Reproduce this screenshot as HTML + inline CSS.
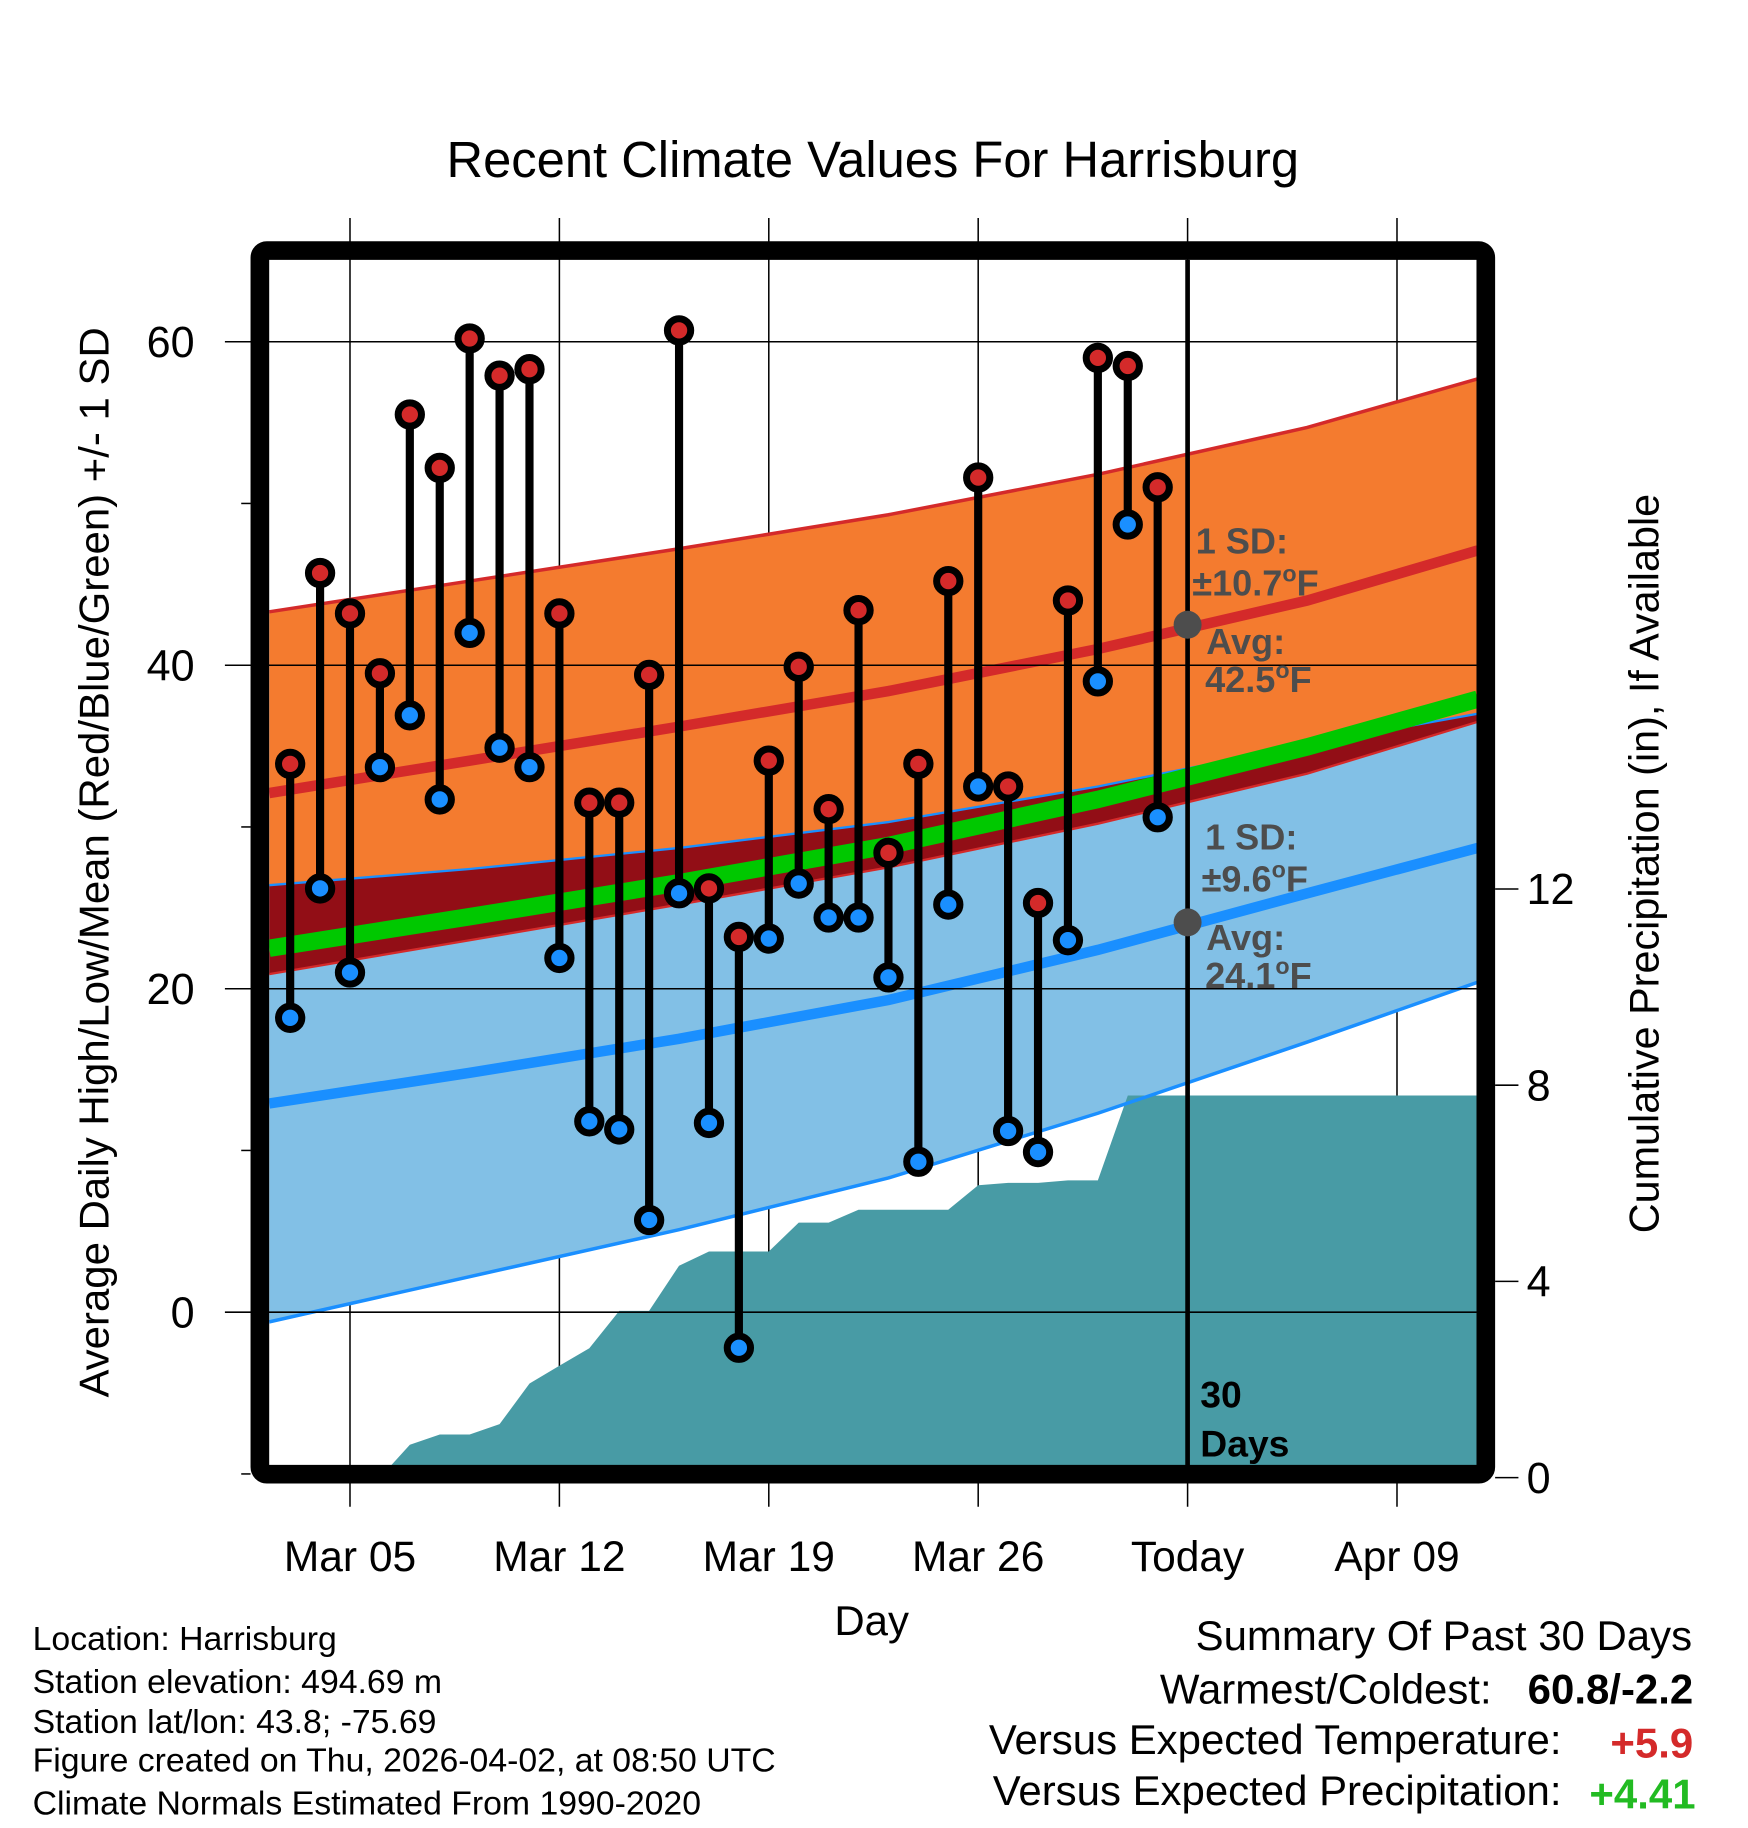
<!DOCTYPE html>
<html><head><meta charset="utf-8"><style>
html,body{margin:0;padding:0;background:#fff;}
svg{display:block;font-family:"Liberation Sans",Arial,sans-serif;}
</style></head><body>
<svg id="chart" width="1748" height="1828" viewBox="0 0 1500 1568.6" xmlns="http://www.w3.org/2000/svg">
<defs><clipPath id="plotclip"><rect x="231" y="223" width="1036" height="1036"/></clipPath></defs>
<text x="749" y="152" font-size="43.5" text-anchor="middle">Recent Climate Values For Harrisburg</text>
<g id="gridBelow"></g>
<g id="plot" clip-path="url(#plotclip)"></g>
<g id="gridAbove"></g>
<rect x="223" y="215" width="1052" height="1050" rx="6" fill="none" stroke="#000" stroke-width="16"/>
<g id="axes"></g>
<text x="748" y="1403" font-size="36" text-anchor="middle">Day</text>
<text transform="translate(93,740) rotate(-90)" font-size="36" text-anchor="middle">Average Daily High/Low/Mean (Red/Blue/Green) +/- 1 SD</text>
<text transform="translate(1423,741) rotate(-90)" font-size="35.5" text-anchor="middle">Cumulative Precipitation (in), If Available</text>
<g font-size="29">
<text x="28" y="1416">Location: Harrisburg</text>
<text x="28" y="1453">Station elevation: 494.69 m</text>
<text x="28" y="1487">Station lat/lon: 43.8; -75.69</text>
<text x="28" y="1520">Figure created on Thu, 2026-04-02, at 08:50 UTC</text>
<text x="28" y="1557">Climate Normals Estimated From 1990-2020</text>
</g>
<g font-size="36">
<text x="1452" y="1416" text-anchor="end">Summary Of Past 30 Days</text>
<text x="1280" y="1462" text-anchor="end">Warmest/Coldest:</text>
<text x="1453" y="1462" text-anchor="end" font-weight="bold">60.8/-2.2</text>
<text x="1340" y="1505" text-anchor="end">Versus Expected Temperature:</text>
<text x="1453" y="1508" text-anchor="end" font-weight="bold" fill="#d42a2a">+5.9</text>
<text x="1340" y="1549" text-anchor="end">Versus Expected Precipitation:</text>
<text x="1455" y="1552" text-anchor="end" font-weight="bold" fill="#22bb22">+4.41</text>
</g>
</svg>
<script>
// ---- data ----
const dayLabels = ["Mar 05","Mar 12","Mar 19","Mar 26","Today","Apr 09"];
const labelDays = [4,11,18,25,32,39]; // days since Mar 1
const obsDays = [2,3,4,5,6,7,8,9,10,11,12,13,14,15,16,17,18,19,20,21,22,23,24,25,26,27,28,29,30,31];
const highs = [33.9,45.7,43.2,39.5,55.5,52.2,60.2,57.9,58.3,43.2,31.5,31.5,39.4,60.7,26.2,23.2,34.1,39.9,31.1,43.4,28.4,33.9,45.2,51.6,32.5,25.3,44.0,59.0,58.5,51.0];
const lows  = [18.2,26.2,21.0,33.7,36.9,31.7,42.0,34.9,33.7,21.9,11.8,11.3,5.7,25.9,11.7,-2.2,23.1,26.5,24.4,24.4,20.7,9.3,25.2,32.5,11.2,9.9,23.0,39.0,48.7,30.6];
const precip = [0,0,0,0,0.67,0.88,0.88,1.09,1.92,2.28,2.64,3.40,3.40,4.32,4.61,4.61,4.61,5.20,5.20,5.46,5.46,5.46,5.46,5.96,6.01,6.01,6.06,6.06,7.79,7.79];
const normDays = [1.3,8,15,22,29,36,41.7];
const normHigh = [32.1,34.1,36.2,38.4,41.0,44.0,47.1];
const sdHigh   = [11.2,11.1,11.0,10.9,10.8,10.7,10.6];
const normLow  = [12.9,14.8,16.9,19.3,22.4,25.9,28.7];
const sdLow    = [13.5,12.6,11.8,11.0,10.1,9.2,8.3];
const yTicks = [0,20,40,60];
const yMinor = [-10,10,30,50];
const y2Ticks = [0,4,8,12];
const todayDay = 32;

// ---- scales ----
const X = d => 249 + (d - 2) * 25.67;
const Y = v => 1126 - v * 13.88;
const Y2 = p => 1268 - p * 42.1;
const NS = "http://www.w3.org/2000/svg";
function mk(tag, attrs, parent){const e=document.createElementNS(NS,tag);for(const k in attrs)e.setAttribute(k,attrs[k]);parent.appendChild(e);return e;}
const plot=document.getElementById('plot'), gb=document.getElementById('gridBelow'), ga=document.getElementById('gridAbove'), ax=document.getElementById('axes');
const pts=(ds,vs,f)=>ds.map((d,i)=>X(d).toFixed(1)+','+f(vs[i]).toFixed(1));
const hiU=normHigh.map((v,i)=>v+sdHigh[i]), hiL=normHigh.map((v,i)=>v-sdHigh[i]);
const loU=normLow.map((v,i)=>v+sdLow[i]), loL=normLow.map((v,i)=>v-sdLow[i]);
const meanN=normHigh.map((v,i)=>(v+normLow[i])/2);
function band(up,lo,fill,name){
  const p=pts(normDays,up,Y).concat(pts(normDays,lo,Y).reverse());
  const e=mk('polygon',{points:p.join(' '),fill:fill},plot);
  
  
}
function line(vals,color,w,name){
  const e=mk('polyline',{points:pts(normDays,vals,Y).join(' '),fill:'none',stroke:color,'stroke-width':w},plot);
  
  
}
band(hiU,hiL,'#f47b2f','high-sd-band');
band(loU,loL,'#82c0e6','low-sd-band');
band(loU,hiL,'#920e16','overlap-band');
{
  const p=[X(1.2)+','+Y2(-0.5)];
  p.push(X(1.2)+','+Y2(precip[0]));
  obsDays.forEach((d,i)=>p.push(X(d).toFixed(1)+','+Y2(precip[i]).toFixed(1)));
  p.push(X(42)+','+Y2(precip[precip.length-1]).toFixed(1));
  p.push(X(42)+','+Y2(-0.5));
  const e=mk('polygon',{points:p.join(' '),fill:'#489ba5'},plot);
  
  
}
line(hiU,'#d42a2a',3,'high-upper-line');
line(hiL,'#d42a2a',2,'high-lower-line');
line(loU,'#1a8fff',2,'low-upper-line');
line(loL,'#1a8fff',3,'low-lower-line');
line(meanN,'#00c800',15,'mean-normal-line');
line(normHigh,'#d42a2a',9,'high-normal-line');
line(normLow,'#1a8fff',9,'low-normal-line');
labelDays.forEach((d,i)=>{
  const e=mk('line',{x1:X(d),x2:X(d),y1:187,y2:1293,stroke:'#000','stroke-width':1.3},gb);
  
  
  const t=mk('text',{x:X(d),y:1348,'font-size':36.5,'text-anchor':'middle'},ax);
  t.textContent=dayLabels[i];
  
  
});
yTicks.forEach(v=>{
  const e=mk('line',{x1:193,x2:1267,y1:Y(v),y2:Y(v),stroke:'#000','stroke-width':1.3},ga);
  
  
  const t=mk('text',{x:167,y:Y(v)+13,'font-size':37,'text-anchor':'end'},ax);
  t.textContent=v;
  
  
});
yMinor.forEach(v=>{
  const e=mk('line',{x1:207,x2:215,y1:Y(v),y2:Y(v),stroke:'#000','stroke-width':1.3},ax);
  
  
});
y2Ticks.forEach(v=>{
  const e=mk('line',{x1:1283,x2:1303,y1:Y2(v),y2:Y2(v),stroke:'#000','stroke-width':1.3},ax);
  
  
  const t=mk('text',{x:1310,y:Y2(v)+13,'font-size':37},ax);
  t.textContent=v;
  
  
});
{
  const e=mk('line',{x1:X(todayDay),x2:X(todayDay),y1:223,y2:1259,stroke:'#000','stroke-width':4},ga);
  
  
}
obsDays.forEach((d,i)=>{
  const s=mk('line',{x1:X(d),x2:X(d),y1:Y(highs[i]),y2:Y(lows[i]),stroke:'#000','stroke-width':7},ga);
  
  
});
obsDays.forEach((d,i)=>{
  const h=mk('circle',{cx:X(d),cy:Y(highs[i]),r:10,fill:'#d42a2a',stroke:'#000','stroke-width':6},ga);
  
  
  const l=mk('circle',{cx:X(d),cy:Y(lows[i]),r:10,fill:'#1a8fff',stroke:'#000','stroke-width':6},ga);
  
  
});
function ann(v, sdTxt, avgTxt, dx, yTop, name){
  const c=mk('circle',{cx:X(todayDay),cy:Y(v),r:12,fill:'#4d4d4d'},ga);
  
  
  const g=mk('g',{'font-size':31,'font-weight':'bold',fill:'#4d4d4d'},ga);
  
  
  const lines=[['1 SD:',X(todayDay)+7+dx,yTop],['\u00b1'+sdTxt,X(todayDay)+4+dx,yTop+36],['Avg:',X(todayDay)+16,yTop+86],[avgTxt,X(todayDay)+15,yTop+119]];
  lines.forEach(l=>{const t=mk('text',{x:l[1],y:l[2]},g);t.innerHTML=l[0].replace('°','<tspan dy="-12" font-size="20">o</tspan><tspan dy="12">')+(l[0].includes('°')?'</tspan>':'');});
}
ann(42.5, '10.7°F','42.5°F',0,475,'high-normal-today');
ann(24.1, '9.6°F','24.1°F',8,729,'low-normal-today');
{
  const g=mk('g',{'font-size':32,'font-weight':'bold'},ga);
  
  
  mk('text',{x:1030,y:1208},g).textContent='30';
  mk('text',{x:1030,y:1250},g).textContent='Days';
}
</script>
</body></html>
